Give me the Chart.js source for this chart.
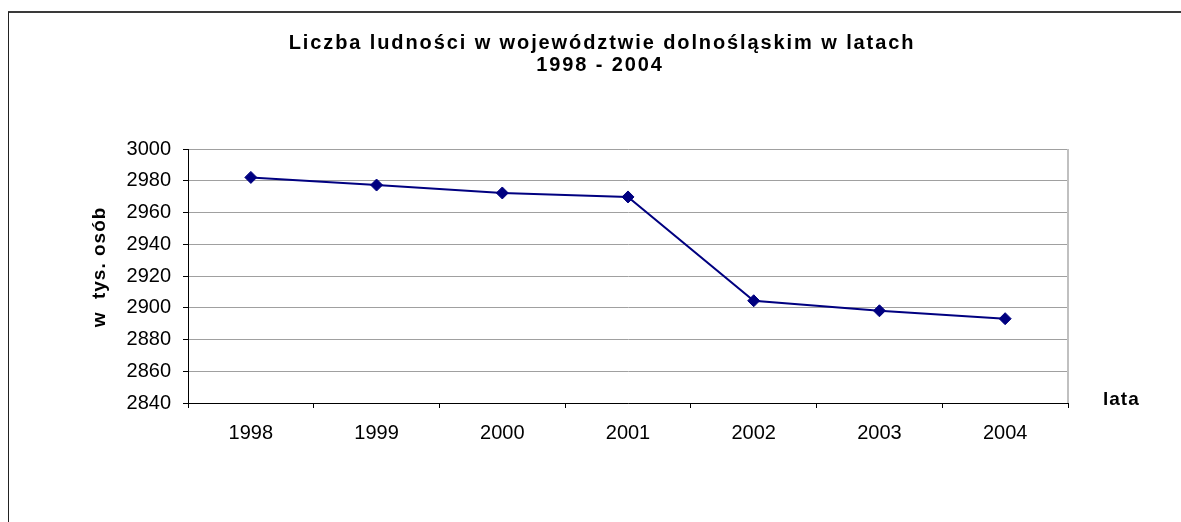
<!DOCTYPE html>
<html lang="pl">
<head>
<meta charset="utf-8">
<title>Liczba ludności w województwie dolnośląskim</title>
<script src="https://cdn.jsdelivr.net/npm/chart.js@4/dist/chart.umd.min.js"></script>
<style>
  html, body { margin: 0; padding: 0; background: #fff; }
  #wrap { position: relative; width: 1181px; height: 522px; }
</style>
</head>
<body>
<div id="wrap"><canvas id="popChart"></canvas></div>
<script>
  "use strict";

  const years = ["1998", "1999", "2000", "2001", "2002", "2003", "2004"];
  const population = [2982.1, 2977.3, 2972.3, 2969.8, 2904.4, 2898.1, 2893.1];
  const yTickValues = [2840, 2860, 2880, 2900, 2920, 2940, 2960, 2980, 3000];
  const titleLines = ["Liczba ludności w województwie dolnośląskim w latach", "1998 - 2004"];
  const yAxisTitle = "w  tys. osób";
  const xAxisTitle = "lata";

  const FONT = "'Liberation Sans', Arial, sans-serif";

  // ramka wykresu, obramowanie obszaru kreślenia i napisy w stylu Excela
  const excelDecor = {
    id: "excelDecor",
    beforeDraw(chart) {
      const ctx = chart.ctx;
      ctx.save();
      ctx.fillStyle = "#ffffff";
      ctx.fillRect(0, 0, chart.width, chart.height);
      ctx.strokeStyle = "#3a3a3a";
      ctx.lineWidth = 2;
      ctx.beginPath();
      ctx.moveTo(8, 12);
      ctx.lineTo(chart.width, 12);
      ctx.stroke();
      ctx.strokeStyle = "#222";
      ctx.lineWidth = 1;
      ctx.beginPath();
      ctx.moveTo(8.5, 12);
      ctx.lineTo(8.5, chart.height);
      ctx.stroke();
      ctx.restore();
    },
    afterDraw(chart) {
      const ctx = chart.ctx;
      const area = chart.chartArea;
      ctx.save();
      // prawa krawędź obszaru kreślenia
      ctx.strokeStyle = "#c0c0c0";
      ctx.lineWidth = 2;
      ctx.beginPath();
      ctx.moveTo(area.right, area.top);
      ctx.lineTo(area.right, area.bottom);
      ctx.stroke();

      ctx.fillStyle = "#000";
      ctx.font = "bold 20px " + FONT;
      ctx.textBaseline = "alphabetic";
      if ("letterSpacing" in ctx) ctx.letterSpacing = "1.9px";
      ctx.textAlign = "center";
      ctx.fillText(titleLines[0], 602, 49);
      ctx.fillText(titleLines[1], 600, 71);

      ctx.font = "bold 19px " + FONT;
      if ("letterSpacing" in ctx) ctx.letterSpacing = "1px";
      ctx.textAlign = "left";
      ctx.fillText(xAxisTitle, area.right + 35, area.bottom + 2);

      ctx.translate(105, 267);
      ctx.rotate(-Math.PI / 2);
      ctx.textAlign = "center";
      ctx.fillText(yAxisTitle, 0, 0);
      ctx.restore();
    }
  };

  new Chart(document.getElementById("popChart"), {
    type: "line",
    data: {
      labels: years,
      datasets: [
        {
          label: "Ludność",
          data: population,
          borderColor: "#000080",
          backgroundColor: "#000080",
          borderWidth: 2,
          tension: 0,
          pointStyle: "rectRot",
          pointRadius: 6,
          pointHoverRadius: 6,
          pointBackgroundColor: "#000080",
          pointBorderColor: "#000080",
          pointBorderWidth: 1
        }
      ]
    },
    options: {
      responsive: true,
      maintainAspectRatio: false,
      animation: false,
      events: [],
      layout: {
        padding: { top: 149, right: 113, bottom: 0, left: 0 }
      },
      plugins: {
        legend: { display: false },
        title: { display: false },
        tooltip: { enabled: false }
      },
      scales: {
        x: {
          type: "category",
          offset: true,
          afterFit(scale) { scale.height = 119; },
          border: { display: true, color: "#000", width: 1 },
          grid: {
            offset: true,
            drawOnChartArea: false,
            drawTicks: true,
            tickLength: 5,
            tickColor: "#000",
            color: "#000"
          },
          ticks: {
            color: "#000",
            padding: 13,
            maxRotation: 0,
            font: { family: FONT, size: 20 }
          }
        },
        y: {
          min: 2840,
          max: 3000,
          afterFit(scale) { scale.width = 188; },
          afterBuildTicks(scale) {
            scale.ticks = yTickValues.map((v) => ({ value: v }));
          },
          border: { display: true, color: "#000", width: 1 },
          grid: {
            color: "#a0a0a0",
            lineWidth: 1,
            drawTicks: true,
            tickLength: 5,
            tickColor: "#000"
          },
          ticks: {
            color: "#000",
            padding: 12,
            font: { family: FONT, size: 20 },
            callback: (value) => String(value)
          }
        }
      }
    },
    plugins: [excelDecor]
  });
</script>
</body>
</html>
